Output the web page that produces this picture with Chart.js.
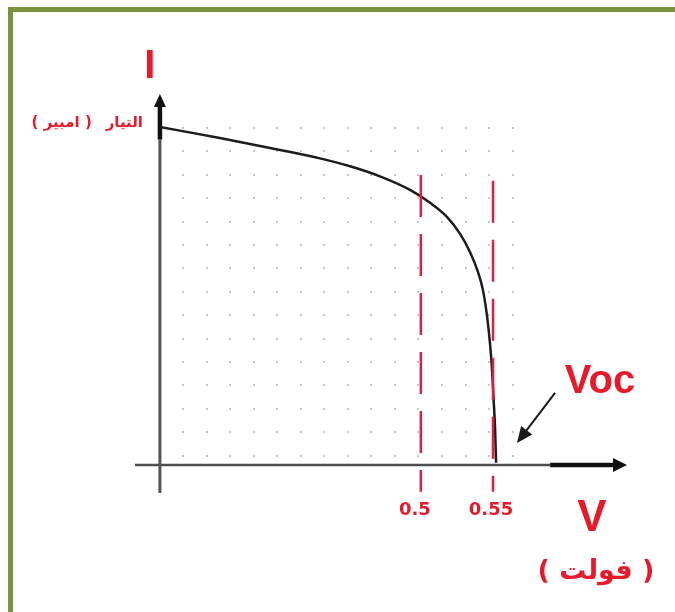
<!DOCTYPE html>
<html>
<head>
<meta charset="utf-8">
<script src="https://cdn.jsdelivr.net/npm/chart.js@4"></script>
<style>
  html, body { margin: 0; padding: 0; background: #fff; }
  #frame {
    position: absolute; left: 8px; top: 7px; width: 700px; height: 700px;
    border-top: 5px solid #77933c; border-left: 5px solid #77933c;
  }
  #wrap { position: absolute; left: 0; top: 0; width: 675px; height: 612px; }
</style>
</head>
<body>
<div id="frame"></div>
<div id="wrap"><canvas id="iv" width="675" height="612"></canvas></div>
<script>
// I-V curve of a solar cell. The sketch is not to scale, so both axes
// are measured in grid divisions (one dot spacing = one unit).
const curveV = [0, 2.55, 5.11, 6.81, 8.09, 9.36, 10.64, 11.49, 12.21, 12.77, 13.19, 13.53, 13.74, 13.91, 14.04, 14.13, 14.19, 14.26, 14.30];
const curveI = [14.44, 13.97, 13.46, 13.10, 12.76, 12.33, 11.75, 11.20, 10.60, 9.87, 9.10, 8.25, 7.48, 6.41, 5.21, 4.06, 2.91, 1.50, 0.09];

// dashed voltage markers
const markerLabels = ['0.5', '0.55'];
const markerV = [11.1, 14.17];
const markerTop = [12.39, 12.14];
const markerBottom = -1.15;

// axis extents (grid units)
const X_MIN = -1.06, X_MAX = 19.87;
const Y_MIN = -1.2, Y_MAX = 15.85;

const RED = '#e51b2b';

const sketch = {
  id: 'sketch',
  beforeDatasetsDraw(chart) {
    const { ctx, chartArea, scales: { x, y } } = chart;
    ctx.save();

    // dotted background grid
    ctx.fillStyle = '#c8c8c8';
    for (let c = 1; c <= 15; c++) {
      for (let r = 0; r < 15; r++) {
        const px = Math.round(x.getPixelForValue(c));
        const py = Math.round(y.getPixelForValue(0.4 + r));
        ctx.fillRect(px - 1, py - 1, 2, 2);
      }
    }

    // horizontal axis: thin grey shaft, heavy black end with arrow
    const y0 = y.getPixelForValue(0);
    const xTip = chartArea.right;
    const xHeavy = x.getPixelForValue(16.6);
    ctx.lineCap = 'butt';
    ctx.strokeStyle = '#4d4d4d';
    ctx.lineWidth = 2.5;
    ctx.beginPath();
    ctx.moveTo(chartArea.left, y0);
    ctx.lineTo(xHeavy, y0);
    ctx.stroke();
    ctx.strokeStyle = '#111';
    ctx.lineWidth = 4.5;
    ctx.beginPath();
    ctx.moveTo(xHeavy, y0);
    ctx.lineTo(xTip - 10, y0);
    ctx.stroke();
    ctx.fillStyle = '#111';
    ctx.beginPath();
    ctx.moveTo(xTip, y0);
    ctx.lineTo(xTip - 14, y0 - 7);
    ctx.lineTo(xTip - 14, y0 + 7);
    ctx.closePath();
    ctx.fill();

    // vertical axis
    const x0 = x.getPixelForValue(0);
    const yTip = chartArea.top;
    const yHeavy = y.getPixelForValue(13.9);
    ctx.strokeStyle = '#555';
    ctx.lineWidth = 3;
    ctx.beginPath();
    ctx.moveTo(x0, chartArea.bottom);
    ctx.lineTo(x0, yHeavy);
    ctx.stroke();
    ctx.strokeStyle = '#111';
    ctx.lineWidth = 4.5;
    ctx.beginPath();
    ctx.moveTo(x0, yHeavy);
    ctx.lineTo(x0, yTip + 10);
    ctx.stroke();
    ctx.beginPath();
    ctx.moveTo(x0, yTip);
    ctx.lineTo(x0 - 6, yTip + 13);
    ctx.lineTo(x0 + 6, yTip + 13);
    ctx.closePath();
    ctx.fill();

    ctx.restore();
  },
  afterDatasetsDraw(chart) {
    const { ctx, scales: { x, y } } = chart;
    const at = (u, v) => [x.getPixelForValue(u), y.getPixelForValue(v)];
    ctx.save();
    ctx.fillStyle = RED;
    ctx.textAlign = 'center';
    ctx.textBaseline = 'middle';

    // marker values under the axis
    ctx.font = 'bold 18px "DejaVu Sans"';
    markerLabels.forEach((t, i) => {
      const [px, py] = at(markerV[i], -1.92);
      ctx.fillText(t, px - 6 + i * 4, py);
    });

    // axis titles
    ctx.font = 'bold 40px "Liberation Sans"';
    ctx.fillText('I', ...at(-0.43, 17.0));
    ctx.font = 'bold 44px "Liberation Sans"';
    ctx.fillText('V', ...at(18.38, -2.31));
    ctx.font = 'bold 40px "Liberation Sans"';
    ctx.fillText('Voc', ...at(18.72, 3.55));

    // current unit label, drawn in two pieces so the word order is fixed
    ctx.font = 'bold 15px "DejaVu Sans"';
    ctx.textAlign = 'right';
    ctx.fillText('التيار', ...at(-0.72, 14.62));
    ctx.fillText('( امبير )', ...at(-2.9, 14.62));
    ctx.textAlign = 'center';
    ctx.font = 'bold 27px "DejaVu Sans"';
    ctx.fillText('( فولت )', ...at(18.55, -4.57));

    // pointer to the open-circuit voltage
    const [ax, ay] = at(16.81, 3.08);
    const [bx, by] = at(15.19, 0.94);
    const ang = Math.atan2(by - ay, bx - ax);
    ctx.strokeStyle = '#1a1a1a';
    ctx.fillStyle = '#1a1a1a';
    ctx.lineWidth = 2;
    ctx.beginPath();
    ctx.moveTo(ax, ay);
    ctx.lineTo(bx - 10 * Math.cos(ang), by - 10 * Math.sin(ang));
    ctx.stroke();
    ctx.beginPath();
    ctx.moveTo(bx, by);
    ctx.lineTo(bx - 16 * Math.cos(ang) + 7 * Math.sin(ang), by - 16 * Math.sin(ang) - 7 * Math.cos(ang));
    ctx.lineTo(bx - 16 * Math.cos(ang) - 7 * Math.sin(ang), by - 16 * Math.sin(ang) + 7 * Math.cos(ang));
    ctx.closePath();
    ctx.fill();

    ctx.restore();
  }
};

const markerSets = markerV.map((v, i) => ({
  data: [{ x: v, y: markerTop[i] }, { x: v, y: markerBottom }],
  showLine: true,
  borderColor: '#dc2040',
  borderWidth: 2.5,
  borderDash: [42, 17],
  pointRadius: 0,
  order: 1
}));

new Chart(document.getElementById('iv'), {
  type: 'scatter',
  data: {
    datasets: [
      {
        data: curveV.map((v, i) => ({ x: v, y: curveI[i] })),
        showLine: true,
        borderColor: '#1c1c1c',
        borderWidth: 2.5,
        pointRadius: 0,
        cubicInterpolationMode: 'monotone',
        order: 2
      },
      ...markerSets
    ]
  },
  options: {
    responsive: false,
    animation: false,
    layout: { padding: { left: 135, right: 48, top: 94, bottom: 119 } },
    plugins: { legend: { display: false }, tooltip: { enabled: false } },
    scales: {
      x: { type: 'linear', display: false, min: X_MIN, max: X_MAX },
      y: { type: 'linear', display: false, min: Y_MIN, max: Y_MAX }
    }
  },
  plugins: [sketch]
});
</script>
</body>
</html>
